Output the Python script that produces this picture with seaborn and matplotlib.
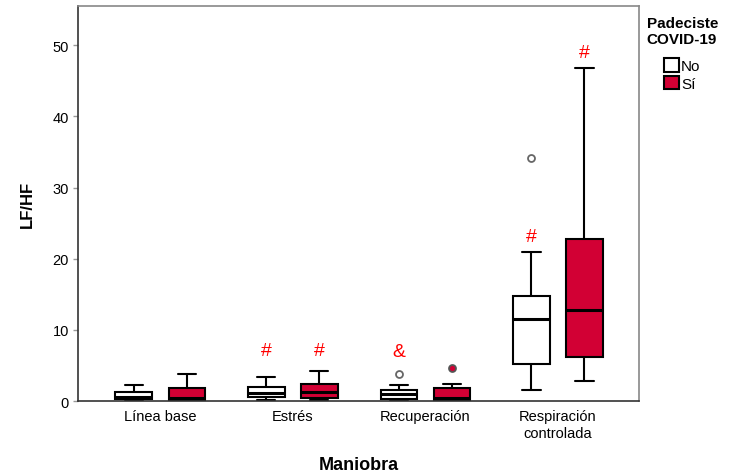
import numpy as np
import pandas as pd
import matplotlib
matplotlib.use("Agg")
import matplotlib.pyplot as plt
from matplotlib.patches import Patch
import seaborn as sns

# ---------------- data ----------------
categories = ["Línea base", "Estrés", "Recuperación", "Respiración\ncontrolada"]
groups = ["No", "Sí"]

no_low = [0.10, 0.15, 0.05, 1.6]
no_q1 = [0.25, 0.60, 0.25, 5.25]
no_median = [0.55, 1.20, 0.95, 11.6]
no_q3 = [1.30, 2.00, 1.55, 14.8]
no_high = [2.20, 3.40, 2.20, 21.0]
no_outliers = [[], [], [3.75], [34.1]]

si_low = [0.05, 0.15, 0.05, 2.8]
si_q1 = [0.15, 0.45, 0.15, 6.2]
si_median = [0.50, 1.35, 0.40, 12.85]
si_q3 = [1.80, 2.35, 1.90, 22.8]
si_high = [3.75, 4.30, 2.45, 46.8]
si_outliers = [[], [], [4.7], []]

ann_cats = [1, 1, 2, 3, 3]
ann_groups = ["No", "Sí", "No", "No", "Sí"]
ann_symbols = ["#", "#", "&", "#", "#"]
ann_y = [7.1, 7.1, 7.0, 23.1, 49.0]

RED = "#D20034"

# Build a long table whose quartiles/whiskers reproduce the summaries
rows = []
summ = {
    "No": (no_low, no_q1, no_median, no_q3, no_high, no_outliers),
    "Sí": (si_low, si_q1, si_median, si_q3, si_high, si_outliers),
}
for g in groups:
    lo, q1, md, q3, hi, outs = summ[g]
    for i, c in enumerate(categories):
        if outs[i]:
            vals = [lo[i], q1[i], q1[i], md[i], md[i], q3[i], q3[i], hi[i]] + list(outs[i])
        else:
            vals = [lo[i], q1[i], q1[i], md[i], md[i], md[i], q3[i], q3[i], hi[i]]
        for v in vals:
            rows.append({"Maniobra": c, "LF/HF": v, "Grupo": g})
df = pd.DataFrame(rows)

# ---------------- style ----------------
sns.set_theme(style="white")
plt.rcParams["font.family"] = ["Liberation Sans", "DejaVu Sans"]
plt.rcParams["text.color"] = "black"
plt.rcParams["axes.labelcolor"] = "black"
plt.rcParams["xtick.color"] = "black"
plt.rcParams["ytick.color"] = "black"

fig = plt.figure(figsize=(7.3, 4.77), dpi=100)
ax = fig.add_axes([0.107, 0.157, 0.768, 0.828])

sns.boxplot(
    data=df, x="Maniobra", y="LF/HF", hue="Grupo",
    order=categories, hue_order=groups,
    palette={"No": "white", "Sí": RED}, saturation=1,
    width=0.8, gap=0.31, linecolor="black", linewidth=1.5,
    fliersize=5,
    flierprops=dict(marker="o", markerfacecolor="white",
                    markeredgecolor="#666666", markeredgewidth=1.3),
    medianprops=dict(linewidth=2.2),
    legend=False, ax=ax,
)

# filled fliers for the "Sí" group
for cont in ax.containers:
    try:
        boxes = cont.boxes
        fliers = cont.fliers
    except AttributeError:
        continue
    for b, f in zip(boxes, fliers):
        fc = b.get_facecolor()
        if fc[0] > 0.5 and fc[1] < 0.3:
            f.set_markerfacecolor(RED)
            f.set_markeredgecolor("#555555")

# annotations
for ci, g, s, y in zip(ann_cats, ann_groups, ann_symbols, ann_y):
    xo = -0.2 if g == "No" else 0.2
    ax.text(ci + xo, y, s, color="#FF0000", fontsize=14, ha="center", va="center")

ax.set_xlim(-0.62, 3.61)
ax.set_ylim(0, 55.5)
ax.set_yticks([0, 10, 20, 30, 40, 50])
ax.tick_params(axis="y", length=3.6, width=1, color="#999999", labelcolor="black",
               labelsize=10.5, pad=3, left=True)
ax.tick_params(axis="x", length=0, labelsize=10.5, pad=6, labelcolor="black")

ax.set_xlabel("Maniobra", fontsize=13, fontweight="bold", labelpad=12, color="black")
ax.set_ylabel("LF/HF", fontsize=12, fontweight="bold", labelpad=13, color="black")

for side in ["left", "bottom"]:
    ax.spines[side].set_color("#333333")
    ax.spines[side].set_linewidth(1.2)
for side in ["top", "right"]:
    ax.spines[side].set_color("#888888")
    ax.spines[side].set_linewidth(1.2)

handles = [Patch(facecolor="white", edgecolor="black", linewidth=1.5),
           Patch(facecolor=RED, edgecolor="black", linewidth=1.5)]
leg = ax.legend(handles, groups, title="Padeciste\nCOVID-19",
                loc="upper left", bbox_to_anchor=(0.998, 0.999),
                frameon=False, fontsize=11, handlelength=0.95, handleheight=0.95,
                handletextpad=0.15, labelspacing=0.2, borderaxespad=0.2)
leg.get_title().set_fontweight("bold")
leg.get_title().set_fontsize(11)
leg.get_title().set_color("black")
leg.get_title().set_multialignment("left")
for t in leg.get_texts():
    t.set_color("black")
leg._legend_box.sep = 9

fig.savefig("out.png", dpi=100)
